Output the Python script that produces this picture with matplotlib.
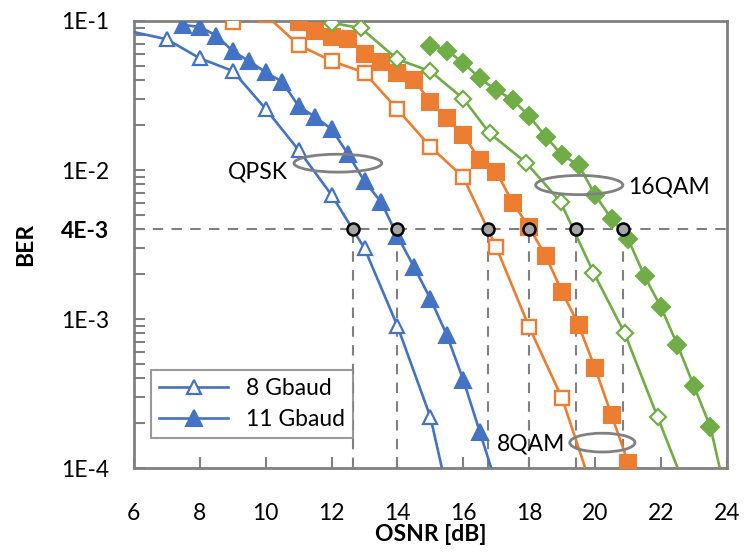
import matplotlib
matplotlib.use('Agg')
import matplotlib.pyplot as plt
from matplotlib.patches import Ellipse
from matplotlib.ticker import LogLocator, FixedLocator, NullFormatter

plt.rcParams['font.family'] = ['Lato', 'DejaVu Sans']

# QPSK
qpsk8_x = [5, 7, 8, 9, 10, 11, 12, 13, 14, 15, 16]
qpsk8_y = [0.094, 0.0754, 0.0562, 0.0462, 0.0257, 0.0136, 0.0068, 0.00298, 0.000897, 0.00022, 2.3e-5]
qpsk11_x = [7.5, 8, 8.5, 9, 9.5, 10, 10.5, 11, 11.5, 12, 12.5, 13, 13.5, 14, 14.5, 15, 15.5, 16, 16.5, 17]
qpsk11_y = [0.094, 0.0912, 0.0799, 0.0627, 0.0537, 0.0453, 0.0391, 0.0268, 0.0227, 0.0188, 0.0128,
            0.0084, 0.00612, 0.00361, 0.00224, 0.00137, 0.00078, 0.00039, 0.000175, 7.8e-5]

# 8QAM
qam8_8_x = [9, 10, 11, 12, 13, 14, 15, 16, 17, 18, 19, 20]
qam8_8_y = [0.099, 0.11, 0.069, 0.0539, 0.045, 0.0255, 0.01434, 0.00893, 0.00303, 0.00088, 0.000294, 6.3e-5]
qam8_11_x = [11, 11.5, 12, 12.5, 13, 13.5, 14, 14.5, 15, 15.5, 16, 16.5, 17, 17.5, 18, 18.5, 19, 19.5, 20, 20.5, 21]
qam8_11_y = [0.099, 0.0861, 0.0785, 0.0754, 0.0598, 0.0533, 0.0446, 0.0402, 0.0287, 0.0222, 0.0172,
             0.01167, 0.00974, 0.00603, 0.00412, 0.00265, 0.00152, 0.000912, 0.000467, 0.000227, 0.000109]

# 16QAM
qam16_8_x = [12, 12.9, 14, 15, 16, 16.8, 17.9, 18.95, 19.95, 20.9, 21.9, 23]
qam16_8_y = [0.0974, 0.0893, 0.0553, 0.046, 0.0301, 0.01763, 0.01123, 0.00612, 0.00205, 0.000802, 0.000219, 5.3e-5]
qam16_11_x = [15, 15.5, 16, 16.5, 17, 17.5, 18, 18.5, 19, 19.5, 20, 20.5, 21, 21.5, 22, 22.5, 23, 23.5, 24.5]
qam16_11_y = [0.068, 0.0632, 0.0525, 0.0412, 0.0344, 0.0295, 0.023, 0.01673, 0.0126, 0.0108, 0.0068,
              0.0047, 0.00345, 0.00194, 0.0012, 0.00067, 0.000355, 0.000189, 2e-5]

# 4E-3 crossings
fec = 4e-3
cross_x = [12.66, 14.0, 16.76, 17.99, 19.41, 20.84]

blue = '#4472C4'
orange = '#ED7D31'
green = '#70AD47'
gray = '#808080'
fs = 16.5

fig = plt.figure(figsize=(7.44, 5.52), dpi=100)
ax = fig.add_axes([0.180, 0.152, 0.797, 0.810])

lw = 1.9
ax.plot(qpsk8_x, qpsk8_y, color=blue, lw=lw, marker='^', ms=10.5, mfc='white', mec=blue, mew=1.6, label='8 Gbaud', zorder=3)
ax.plot(qpsk11_x, qpsk11_y, color=blue, lw=lw, marker='^', ms=11.5, mfc=blue, mec=blue, mew=1.5, label='11 Gbaud', zorder=3)
ax.plot(qam8_8_x, qam8_8_y, color=orange, lw=lw, marker='s', ms=10.5, mfc='white', mec=orange, mew=1.7, zorder=3)
ax.plot(qam8_11_x, qam8_11_y, color=orange, lw=lw, marker='s', ms=11, mfc=orange, mec=orange, mew=1.5, zorder=3)
ax.plot(qam16_8_x, qam16_8_y, color=green, lw=lw, marker='D', ms=8.5, mfc='white', mec=green, mew=1.6, zorder=3)
ax.plot(qam16_11_x, qam16_11_y, color=green, lw=lw, marker='D', ms=9, mfc=green, mec=green, mew=1.5, zorder=3)

# FEC threshold lines
ax.axhline(fec, color=gray, lw=1.5, ls=(0, (5, 4)), zorder=2)
for cx in cross_x:
    ax.plot([cx, cx], [1e-4, fec], color=gray, lw=1.5, ls=(0, (5, 4)), zorder=2)
ax.scatter(cross_x, [fec] * len(cross_x), s=75, c='#A6A6A6', edgecolors='black', linewidths=1.8, zorder=5)

# ellipses and labels
for (ex, ey, ew, eh) in [(0.344, 0.682, 0.148, 0.040), (0.751, 0.633, 0.147, 0.043), (0.790, 0.057, 0.110, 0.042)]:
    ax.add_patch(Ellipse((ex, ey), ew, eh, transform=ax.transAxes, fill=False, ec=gray, lw=2, zorder=6))
ax.text(0.260, 0.662, 'QPSK', transform=ax.transAxes, ha='right', va='center', fontsize=fs)
ax.text(0.833, 0.628, '16QAM', transform=ax.transAxes, ha='left', va='center', fontsize=fs)
ax.text(0.612, 0.055, '8QAM', transform=ax.transAxes, ha='left', va='center', fontsize=fs)

ax.set_xlim(6, 24)
ax.set_ylim(1e-4, 1e-1)
ax.set_yscale('log')
ax.set_xticks([6, 8, 10, 12, 14, 16, 18, 20, 22, 24])
ax.yaxis.set_major_locator(FixedLocator([1e-4, 1e-3, 4e-3, 1e-2, 1e-1]))
ax.set_yticklabels(['1E-4', '1E-3', '4E-3', '1E-2', '1E-1'])
ax.get_yticklabels()[2].set_fontweight('bold')
ax.yaxis.set_minor_locator(LogLocator(base=10, subs=[2, 3, 4, 5, 6, 7, 8, 9]))
ax.yaxis.set_minor_formatter(NullFormatter())

ax.tick_params(axis='both', which='both', direction='in', color=gray, width=1.5, labelsize=fs)
ax.tick_params(axis='x', which='major', length=8, pad=25, top=False)
ax.tick_params(axis='y', which='major', length=8, pad=18)
ax.tick_params(axis='y', which='minor', length=8)
for sp in ax.spines.values():
    sp.set_color(gray)
    sp.set_linewidth(2)

ax.set_xlabel('OSNR [dB]', fontsize=fs, fontweight='bold', labelpad=0)
ax.set_ylabel('BER', fontsize=fs, fontweight='bold', labelpad=18)

leg = ax.legend(loc='lower left', bbox_to_anchor=(0.029, 0.067), borderaxespad=0, fontsize=fs,
                fancybox=False, edgecolor=gray, handlelength=3.0, handletextpad=0.8,
                borderpad=0.35, labelspacing=0.45)
leg.get_frame().set_linewidth(1.5)

fig.savefig('out.png', dpi=100)
